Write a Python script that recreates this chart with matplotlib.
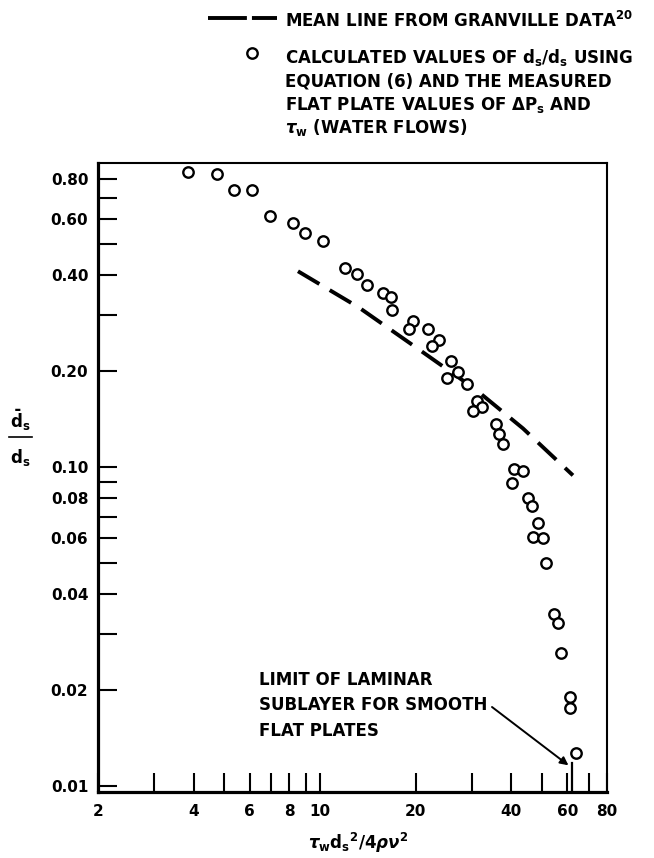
import matplotlib
matplotlib.use("Agg")
import matplotlib.pyplot as plt
from matplotlib.lines import Line2D

plt.rcParams['font.family'] = ['DejaVu Sans']
plt.rcParams['font.weight'] = 'bold'
plt.rcParams['mathtext.fontset'] = 'custom'
plt.rcParams['mathtext.rm'] = 'DejaVu Sans:bold'
plt.rcParams['mathtext.bf'] = 'DejaVu Sans:bold'
plt.rcParams['mathtext.it'] = 'DejaVu Sans:bold:italic'
plt.rcParams['mathtext.sf'] = 'DejaVu Sans:bold'

# calculated values (circles)
calc_x = [3.85, 4.75, 5.37, 6.11, 6.97, 8.20, 8.99, 10.24, 11.99, 13.04, 14.02,
          15.74, 16.72, 16.84, 19.57, 19.1, 21.9, 23.6, 22.45, 25.77, 27.2, 25.15,
          28.95, 31.1, 32.3, 30.4, 35.8, 36.7, 37.7, 40.8, 43.4, 40.1, 45.0, 46.6,
          48.6, 46.7, 50.2, 51.3, 54.6, 56.0, 57.3, 61.2, 61.2, 63.9]
calc_y = [0.843, 0.833, 0.742, 0.742, 0.615, 0.583, 0.543, 0.511, 0.421, 0.403,
          0.372, 0.352, 0.342, 0.311, 0.287, 0.271, 0.271, 0.251, 0.241, 0.215,
          0.199, 0.191, 0.183, 0.162, 0.1545, 0.150, 0.1364, 0.127, 0.118, 0.099,
          0.0972, 0.0893, 0.0801, 0.0755, 0.0669, 0.0605, 0.0600, 0.0501, 0.0348,
          0.0324, 0.0262, 0.0191, 0.01765, 0.01272]

# mean line from Granville data
mean_x = [8.52, 13.26, 20.63, 30.75, 43.5, 62.5]
mean_y = [0.412, 0.317, 0.233, 0.176, 0.1325, 0.0944]

laminar_limit = 62.0

x_ticks = [2, 3, 4, 5, 6, 7, 8, 9, 10, 20, 30, 40, 50, 60, 70, 80]
x_labels = ['2', '', '4', '', '6', '', '8', '', '10', '20', '', '40', '', '60', '', '80']
y_ticks = [0.01, 0.02, 0.03, 0.04, 0.05, 0.06, 0.07, 0.08, 0.09, 0.1,
           0.2, 0.3, 0.4, 0.5, 0.6, 0.7, 0.8]
y_labels = ['0.01', '0.02', '', '0.04', '', '0.06', '', '0.08', '', '0.10',
            '0.20', '', '0.40', '', '0.60', '', '0.80']

FS = 12
TICK_FS = 11
W, H = 654, 858
fig = plt.figure(figsize=(W / 100, H / 100), dpi=100)
ax = fig.add_axes([98 / W, 1 - 792 / H, (607 - 98) / W, (792 - 163) / H])

ax.plot(mean_x, mean_y, color='black', lw=2.8, linestyle=(0, (6.4, 3.1)))
ax.plot(calc_x, calc_y, 'o', mfc='white', mec='black', ms=7.5, mew=1.7,
        linestyle='none')

ax.set_xscale('log')
ax.set_yscale('log')
ax.set_xlim(2, 80)
ax.set_ylim(0.0096, 0.9)
ax.minorticks_off()
ax.set_xticks(x_ticks)
ax.set_xticklabels(x_labels)
ax.set_yticks(y_ticks)
ax.set_yticklabels(y_labels)
ax.tick_params(which='both', direction='in', length=13.5, width=1.5,
               labelsize=TICK_FS, colors='black')
ax.tick_params(axis='y', pad=7)
ax.tick_params(axis='x', pad=9)
for lab in ax.get_xticklabels() + ax.get_yticklabels():
    lab.set_fontweight('bold')

ax.spines['left'].set_linewidth(2.3)
ax.spines['bottom'].set_linewidth(2.3)
ax.spines['top'].set_linewidth(1.5)
ax.spines['right'].set_linewidth(1.5)

# tall tick marking the laminar sublayer limit
ax.plot([laminar_limit, laminar_limit], [0, 0.046], color='black', lw=1.6,
        transform=ax.get_xaxis_transform(), clip_on=False)

# annotation
for i, line in enumerate(['LIMIT OF LAMINAR', 'SUBLAYER FOR SMOOTH', 'FLAT PLATES']):
    fig.text(259 / W, 1 - (680 + 25.5 * i) / H, line, fontsize=FS,
             fontweight='bold', va='center', ha='left')
ax.annotate('', xy=(60.5, 0.01164), xycoords='data',
            xytext=(492, H - 707), textcoords='figure pixels',
            arrowprops=dict(arrowstyle='-|>', color='black', lw=1.4,
                            mutation_scale=12, shrinkA=0, shrinkB=0))

# legend
fig.add_artist(Line2D([208 / W, 277 / W], [1 - 18 / H, 1 - 18 / H], color='black',
                      lw=2.8, linestyle=(0, (10, 1.3))))
fig.text(285 / W, 1 - 21 / H, 'MEAN LINE FROM GRANVILLE DATA$^{20}$',
         fontsize=FS, fontweight='bold', va='center')
fig.add_artist(Line2D([252 / W], [1 - 53 / H], marker='o', mfc='white', mec='black',
                      ms=7.5, mew=1.7, linestyle='none'))
legend_lines = [r'CALCULATED VALUES OF d$_\mathrm{s}$/d$_\mathrm{s}$ USING',
                'EQUATION (6) AND THE MEASURED',
                r'FLAT PLATE VALUES OF $\Delta$P$_\mathrm{s}$ AND',
                r'$\tau_\mathrm{w}$ (WATER FLOWS)']
for i, line in enumerate(legend_lines):
    fig.text(285 / W, 1 - (58 + 23.3 * i) / H, line, fontsize=FS,
             fontweight='bold', va='center')

# axis labels
fig.text(20 / W, 1 - 420 / H, r'$\bar{\mathrm{d}}_\mathrm{s}$', fontsize=FS,
         ha='center', va='center')
fig.add_artist(Line2D([9 / W, 32 / W], [1 - 437 / H, 1 - 437 / H], color='black', lw=1.2))
fig.text(20 / W, 1 - 457 / H, r'$\mathrm{d}_\mathrm{s}$', fontsize=FS,
         ha='center', va='center')
fig.text(358 / W, 1 - 843 / H,
         r'$\tau_\mathrm{w}\mathrm{d}_\mathrm{s}{}^\mathrm{2}\mathrm{/4}\rho\nu^\mathrm{2}$',
         fontsize=FS, ha='center', va='center')

fig.savefig('out.png', dpi=100)
